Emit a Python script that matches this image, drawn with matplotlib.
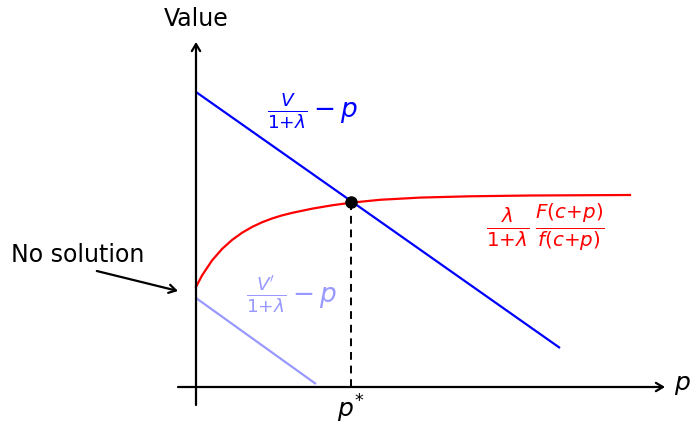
import matplotlib
matplotlib.use("Agg")
import matplotlib.pyplot as plt

plt.rcParams["font.family"] = ["DejaVu Sans"]
plt.rcParams["mathtext.fontset"] = "dejavusans"

# Demand side: V/(1+lambda) - p  (straight line)
high_p = [0.0, 9.1]
high_v = [7.375, 0.975]

# Lower valuation V'/(1+lambda) - p
low_p = [0.0, 3.0]
low_v = [2.225, 0.075]

# lambda/(1+lambda) * F(c+p)/f(c+p)
hazard_p = [0.0, 0.15, 0.4, 0.65, 0.9, 1.15, 1.4, 1.65, 1.9, 2.15, 2.4, 2.9, 3.4,
            3.9, 4.6, 5.6, 6.85, 8.35, 10.85]
hazard_v = [2.5, 2.7875, 3.1625, 3.45, 3.675, 3.855, 4.0, 4.1175, 4.2125, 4.29,
            4.3525, 4.4575, 4.5425, 4.61, 4.68, 4.735, 4.7675, 4.7875, 4.8]

# Equilibrium price
p_star = 3.875
v_star = 4.615

fig = plt.figure(figsize=(6.93, 4.25), dpi=100)
ax = fig.add_axes([0, 0, 1, 1])
ax.set_xlim(-4.9, 12.425)
ax.set_ylim(-0.95, 9.675)
ax.axis("off")

arrow = dict(arrowstyle="->,head_length=0.5,head_width=0.3", color="black", lw=1.6,
             shrinkA=0, shrinkB=0)
ax.annotate("", xy=(11.725, 0), xytext=(-0.45, 0), arrowprops=arrow)
ax.annotate("", xy=(0, 8.625), xytext=(0, -0.45), arrowprops=arrow)
ax.text(0, 9.2, "Value", ha="center", va="center", fontsize=17)
ax.text(11.95, 0.05, "$p$", ha="left", va="center", fontsize=18)

ax.plot(high_p, high_v, color="#0000ff", lw=1.6, solid_capstyle="butt")
ax.plot(low_p, low_v, color="#9999ff", lw=1.6, solid_capstyle="butt")
ax.plot(hazard_p, hazard_v, color="#ff0000", lw=1.6, solid_joinstyle="round")

ax.plot([p_star, p_star], [0, v_star], color="black", lw=1.4, ls=(0, (4, 3)))
ax.plot([p_star], [v_star], "o", color="black", ms=8, zorder=5)
ax.text(p_star, -0.55, "$p^{*}$", ha="center", va="center", fontsize=18)

ax.text(2.925, 6.9, r"$\frac{V}{1{+}\lambda}-p$", ha="center", va="center",
        color="#0000ff", fontsize=19)
ax.text(8.725, 4.0, r"$\frac{\lambda}{1{+}\lambda}\,\frac{F(c{+}p)}{f(c{+}p)}$",
        ha="center", va="center", color="#ff0000", fontsize=20.5)
ax.text(2.4, 2.3, r"$\frac{V'}{1{+}\lambda}-p$", ha="center", va="center",
        color="#9999ff", fontsize=19)

ax.text(-2.95, 3.3, "No solution", ha="center", va="center", fontsize=17)
ax.annotate("", xy=(-0.45, 2.4), xytext=(-2.48, 2.9),
            arrowprops=dict(arrowstyle="->,head_length=0.5,head_width=0.3",
                            color="black", lw=1.6, shrinkA=0, shrinkB=0))

fig.savefig("out.png", dpi=100)
